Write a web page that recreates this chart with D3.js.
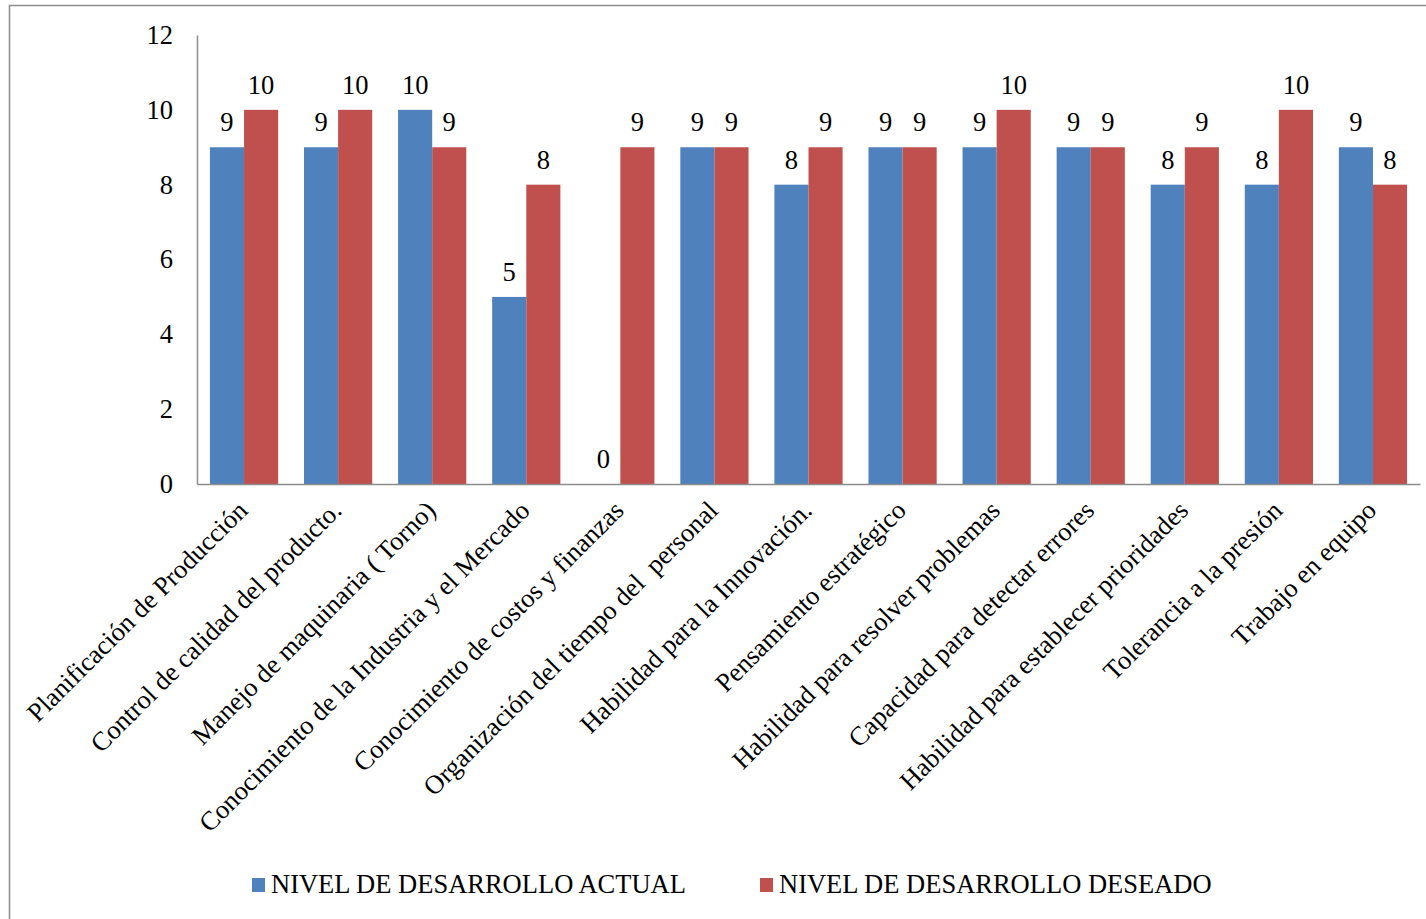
<!DOCTYPE html>
<html>
<head>
<meta charset="utf-8">
<script src="https://cdn.jsdelivr.net/npm/d3@7"></script>
<style>
  html, body { margin: 0; padding: 0; background: #fff; }
  svg { display: block; font-family: "Liberation Serif", "Times New Roman", serif; }
  .xlab { white-space: pre; }
</style>
</head>
<body>
<svg id="chart" width="1426" height="919"></svg>
<script>
// Competencias evaluadas
const categories = [
  "Planificación de Producción",
  "Control de calidad del producto.",
  "Manejo de maquinaria ( Torno)",
  "Conocimiento de la Industria y el Mercado",
  "Conocimiento de costos y finanzas",
  "Organización del tiempo del  personal",
  "Habilidad para la Innovación.",
  "Pensamiento estratégico",
  "Habilidad para resolver problemas",
  "Capacidad para detectar errores",
  "Habilidad para establecer prioridades",
  "Tolerancia a la presión",
  "Trabajo en equipo"
];
const actual  = [9, 9, 10, 5, 0, 9, 8, 9, 9, 9, 8, 8, 9];
const deseado = [10, 10, 9, 8, 9, 9, 9, 9, 10, 9, 9, 10, 8];
const seriesNames = ["NIVEL DE DESARROLLO ACTUAL", "NIVEL DE DESARROLLO DESEADO"];
const seriesColors = ["#4F81BD", "#C0504D"];
const yTicks = [0, 2, 4, 6, 8, 10, 12];

const FONT = "Liberation Serif, Times New Roman, serif";
const FS = 26.5;

const svg = d3.select("#chart");

// outer frame
svg.append("rect")
  .attr("x", 9.5).attr("y", 5.5)
  .attr("width", 1430).attr("height", 930)
  .attr("fill", "none").attr("stroke", "#8c8c8c").attr("stroke-width", 1.5);

const plot = { left: 197, right: 1420, top: 35, bottom: 484 };

const x0 = d3.scaleBand()
  .domain(categories)
  .range([plot.left, plot.right])
  .paddingInner(0.275).paddingOuter(0.1375);

const x1 = d3.scaleBand()
  .domain([0, 1])
  .range([0, x0.bandwidth()]);

const y = d3.scaleLinear().domain([0, 12]).range([plot.bottom, plot.top]);

const data = categories.map((c, i) => ({ cat: c, values: [actual[i], deseado[i]] }));

// bars
const groups = svg.append("g").selectAll("g")
  .data(data).join("g")
  .attr("transform", d => `translate(${x0(d.cat)},0)`);

groups.selectAll("rect")
  .data(d => d.values.map((v, k) => ({ v, k })))
  .join("rect")
  .attr("x", d => x1(d.k))
  .attr("y", d => y(d.v))
  .attr("width", x1.bandwidth())
  .attr("height", d => y(0) - y(d.v))
  .attr("fill", d => seriesColors[d.k]);

// value labels
groups.selectAll("text")
  .data(d => d.values.map((v, k) => ({ v, k })))
  .join("text")
  .attr("x", d => x1(d.k) + x1.bandwidth() / 2)
  .attr("y", d => y(d.v) - 16)
  .attr("text-anchor", "middle")
  .attr("font-size", FS)
  .attr("font-family", FONT)
  .attr("fill", "#000")
  .text(d => d.v);

// y axis
const yAxis = d3.axisLeft(y).tickValues(yTicks).tickSize(0).tickPadding(24);
const gy = svg.append("g").attr("transform", `translate(${plot.left},0)`).call(yAxis);
gy.select(".domain").attr("stroke", "#8c8c8c").attr("stroke-width", 1.5);
gy.selectAll("text").attr("font-size", FS).attr("fill", "#000")
  .attr("font-family", FONT);

// x axis
const xAxis = d3.axisBottom(x0).tickSize(0).tickPadding(0);
const gx = svg.append("g").attr("transform", `translate(0,${plot.bottom})`).call(xAxis);
gx.select(".domain").attr("stroke", "#8c8c8c").attr("stroke-width", 1.5);
gx.selectAll("text")
  .attr("class", "xlab")
  .attr("font-size", FS).attr("fill", "#000")
  .attr("font-family", FONT)
  .attr("text-anchor", "end")
  .attr("dy", null)
  .attr("transform", "translate(5,28) rotate(-45)");

// legend
const legend = svg.append("g");
const legendX = [252, 760];
seriesNames.forEach((name, k) => {
  const g = legend.append("g").attr("transform", `translate(${legendX[k]},0)`);
  g.append("rect").attr("x", 0).attr("y", 878).attr("width", 13).attr("height", 14)
    .attr("fill", seriesColors[k]);
  g.append("text").attr("x", 19).attr("y", 893)
    .attr("font-size", FS).attr("font-family", FONT).attr("fill", "#000").text(name);
});
</script>
</body>
</html>
